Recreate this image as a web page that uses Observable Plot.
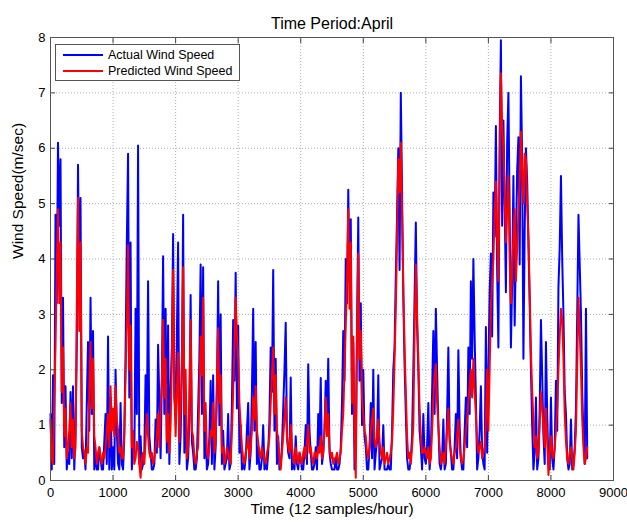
<!DOCTYPE html>
<html>
<head>
<meta charset="utf-8">
<script src="https://cdn.jsdelivr.net/npm/d3@7"></script>
<script src="https://cdn.jsdelivr.net/npm/@observablehq/plot@0.6"></script>
<style>
  html, body { margin: 0; padding: 0; background: #fff; }
  #wrap { position: relative; width: 627px; height: 524px; font-family: "Liberation Sans", Arial, sans-serif; }
  #legend { position: absolute; left: 55px; top: 44px; width: 185px; height: 37px; border: 1px solid #555; background: #fff; box-sizing: border-box; font-size: 12.5px; color: #000; }
  .item { position: absolute; left: 7px; height: 16px; display: flex; align-items: center; }
  .item span.sw { display: inline-block; width: 40px; height: 2px; margin-right: 5px; }
</style>
</head>
<body>
<div id="wrap"></div>
<script>
// Sample spacing of the recorded values (samples)
const sampleStep = 20;

// Actual wind speed (m/sec), one value every 20 samples
const actual = [
  1.2,0.2,1.9,0.3,4.8,3.2,6.1,4.6,5.8,1.4,3.3,0.6,1.7,0.2,0.5,0.3,1.6,0.4,1.7,0.2,0.9,2.4,5.7,3.4,5.1,0.6,0.4,0.5,0.2,1.4,2.5,0.9,3.3,1.2,2.7,0.2,0.5,0.2,0.2,0.6,0.4,0.2,0.2,0.7,1.2,0.3,2.6,0.2,1.5,0.2,
  0.6,0.2,2.0,0.9,0.3,0.2,1.4,0.3,0.2,0.8,2.3,4.3,5.9,1.5,4.3,0.2,0.6,0.4,3.1,1.2,6.05,0.3,0.8,0.2,0.3,0.5,1.9,1.0,3.6,0.8,0.5,0.2,0.2,0.3,1.1,0.5,2.45,1.4,0.4,1.8,4.05,1.2,3.1,0.5,2.8,0.3,1.6,2.4,4.45,1.5,
  1.2,2.6,4.3,0.3,0.8,2.0,4.8,0.5,1.6,0.2,0.4,1.1,3.35,0.7,0.5,0.2,0.2,0.4,1.3,2.2,3.9,1.2,3.85,0.4,1.0,0.2,0.3,0.8,1.8,0.3,1.9,0.2,0.6,1.6,3.6,1.0,3.0,0.3,0.9,0.2,0.3,0.4,1.2,0.2,0.3,1.4,2.9,1.8,3.75,1.3,
  2.8,0.5,1.0,0.2,0.3,0.2,0.4,0.9,1.4,0.2,0.5,1.6,3.1,0.9,2.5,0.3,0.6,0.2,0.2,0.4,1.0,0.2,0.3,0.2,0.5,1.1,2.4,1.6,3.8,0.9,2.2,0.3,0.8,0.2,0.3,0.6,1.3,2.0,2.85,0.8,0.5,0.4,1.86,0.2,0.3,0.2,0.8,0.3,0.2,0.5,
  0.4,0.2,0.2,0.5,1.0,0.3,2.1,0.9,0.5,0.2,0.2,0.3,0.6,0.2,1.2,0.6,1.85,0.3,0.5,0.9,1.8,1.0,2.2,0.5,0.3,0.2,0.2,0.2,0.4,0.2,0.2,0.3,0.6,1.4,2.7,1.8,4.0,3.2,5.25,3.6,4.72,1.2,2.5,0.2,0.6,2.8,4.75,1.8,3.2,1.0,
  2.0,0.8,0.6,0.2,0.2,0.6,1.4,0.4,2.0,0.2,0.5,0.7,1.9,0.2,0.3,0.4,1.0,0.2,0.2,0.2,0.3,0.2,0.2,0.9,2.0,2.4,3.7,4.8,6.0,3.8,7.0,5.2,3.3,2.1,1.2,0.4,0.2,0.2,0.4,0.8,2.0,3.3,4.66,2.8,2.0,0.9,0.6,0.2,1.2,0.4,
  0.3,0.6,1.4,0.2,0.5,1.6,2.7,1.2,3.1,2.0,1.0,0.3,0.2,0.4,1.1,0.2,0.3,1.2,2.4,0.8,0.5,0.2,0.2,0.6,1.2,0.4,2.35,1.0,0.4,0.2,0.2,0.9,1.5,0.6,2.4,1.2,3.6,2.2,4.0,2.6,1.5,0.2,0.4,0.9,1.7,0.5,0.3,0.2,2.77,0.5,
  2.0,3.4,4.1,2.6,5.2,4.4,6.4,3.8,2.4,6.2,7.95,4.6,6.5,5.0,3.4,6.1,7.0,4.8,2.4,3.6,5.5,2.8,4.2,5.6,6.2,3.9,7.3,5.8,2.2,4.5,6.0,5.4,4.3,3.2,2.0,1.0,0.2,0.5,1.5,0.2,0.4,1.3,2.9,1.9,0.8,0.3,2.5,1.2,0.3,0.2,
  1.5,0.4,0.2,0.6,1.8,0.9,3.5,4.2,5.5,4.0,3.0,1.6,1.2,0.4,0.2,0.3,1.1,0.2,0.3,0.6,1.3,3.0,4.8,3.9,3.0,1.6,0.8,0.3,3.1,0.4
];

// Predicted wind speed (m/sec), same sampling
const predicted = [
  1.1,0.4,0.3,1.5,2.4,3.8,4.9,3.2,4.3,1.6,2.4,0.8,1.3,0.4,0.6,0.9,1.4,0.6,1.1,0.4,0.6,3.1,5.1,2.7,4.3,0.9,0.6,0.5,0.3,0.6,0.5,1.6,2.5,1.3,2.2,0.8,0.6,0.3,0.5,0.6,0.4,0.3,0.5,0.4,0.6,0.9,1.2,0.6,1.7,0.9,
  1.3,0.8,1.7,1.1,0.9,0.5,0.6,0.4,0.4,0.9,1.9,2.8,4.25,2.0,2.8,0.6,0.9,0.3,0.4,0.7,0.6,0.3,0.05,0.4,0.5,0.3,0.7,1.2,0.8,0.5,0.4,0.5,0.3,0.4,0.6,0.8,1.2,0.6,1.3,1.8,2.9,1.5,2.2,0.7,1.2,0.5,1.0,2.2,3.8,1.6,
  0.8,1.6,2.3,0.7,1.3,2.1,3.85,1.2,2.0,0.4,0.6,1.5,2.9,0.9,0.8,0.4,0.3,0.5,0.6,1.6,2.6,1.9,3.3,0.9,1.4,0.5,0.4,0.6,0.9,0.8,1.4,0.5,0.7,1.8,2.75,1.4,1.9,0.5,0.6,0.3,0.4,0.6,0.5,0.4,0.3,0.9,1.6,2.4,3.3,2.6,
  2.2,1.4,1.0,0.6,0.4,0.3,0.5,0.6,0.8,0.4,0.6,0.9,1.5,1.1,1.7,0.9,0.7,0.5,0.4,0.6,0.5,0.4,0.3,0.5,0.6,0.8,1.4,1.9,2.4,1.2,1.9,0.9,0.7,0.4,0.2,0.5,0.8,1.1,1.5,0.8,0.6,0.5,1.0,0.6,0.4,0.3,0.6,0.4,0.3,0.5,
  0.4,0.3,0.5,0.6,0.4,0.7,1.0,0.5,0.6,0.4,0.3,0.5,0.5,0.4,0.6,0.5,0.8,0.4,0.5,0.9,1.5,0.8,1.2,0.6,0.4,0.5,0.3,0.4,0.4,0.5,0.3,0.4,0.5,0.9,1.2,2.0,2.8,3.6,4.9,3.1,4.3,1.4,2.6,0.8,0.05,2.6,4.1,2.2,2.7,1.5,
  1.2,0.9,0.8,0.5,0.4,0.6,0.9,1.1,1.3,0.7,0.6,0.8,1.1,0.7,0.5,0.4,0.6,0.3,0.4,0.5,0.3,0.4,0.5,0.7,1.3,2.2,3.1,4.4,5.8,5.2,6.1,4.8,3.5,2.4,1.6,0.8,0.4,0.5,0.3,0.6,1.0,2.7,3.9,3.0,2.2,1.3,0.8,0.5,0.5,0.6,
  0.5,0.4,0.6,0.3,0.4,0.9,1.5,1.9,2.1,1.4,1.0,0.6,0.3,0.4,0.5,0.3,0.6,0.9,1.3,0.7,0.5,0.4,0.3,0.5,0.6,0.8,1.1,0.6,0.4,0.3,0.4,0.6,0.9,1.1,1.4,1.7,2.0,1.5,2.2,1.6,1.2,0.7,0.5,0.6,0.7,0.4,0.5,0.6,1.1,2.0,
  0.9,2.0,3.1,3.6,4.0,4.8,5.4,4.4,3.6,5.6,7.35,6.4,6.0,5.2,4.3,4.9,5.5,4.0,3.2,3.8,4.4,4.9,3.6,4.2,4.8,5.4,6.3,5.6,5.0,5.9,5.8,5.0,4.4,3.4,2.3,1.6,1.1,0.6,0.8,0.4,0.5,1.0,1.6,1.3,1.0,0.6,1.3,0.7,0.1,0.5,
  0.8,0.5,0.4,0.6,0.9,1.3,2.0,2.6,3.1,2.9,2.2,1.2,0.7,0.4,0.3,0.5,0.6,0.4,0.2,0.5,0.9,2.1,3.3,2.7,2.0,1.1,0.6,0.3,0.4,0.6
];

const xTicks = [0, 1000, 2000, 3000, 4000, 5000, 6000, 7000, 8000, 9000];
const yTicks = [0, 1, 2, 3, 4, 5, 6, 7, 8];
const seriesNames = ["Actual Wind Speed", "Predicted Wind Speed"];
const seriesColors = ["#0000ff", "#ff0000"];
const titleText = "Time Period:April";
const xLabel = "Time (12 samples/hour)";
const yLabel = "Wind Speed(m/sec)";

const actualData = actual.map((v, i) => ({t: i * sampleStep, v}));
const predData = predicted.map((v, i) => ({t: i * sampleStep, v}));

const fmt = d => String(d);

const chart = Plot.plot({
  width: 627,
  height: 524,
  marginLeft: 50,
  marginRight: 14,
  marginTop: 37,
  marginBottom: 44,
  style: {fontFamily: '"Liberation Sans", Arial, sans-serif', fontSize: "13px", color: "#000", background: "#fff", overflow: "visible"},
  x: {domain: [0, 9000], ticks: xTicks},
  y: {domain: [0, 8], ticks: yTicks},
  marks: [
    Plot.gridX(xTicks.slice(1, -1), {stroke: "#999", strokeOpacity: 1, strokeDasharray: "1,2", strokeWidth: 0.8}),
    Plot.gridY(yTicks.slice(1, -1), {stroke: "#999", strokeOpacity: 1, strokeDasharray: "1,2", strokeWidth: 0.8}),
    Plot.lineY(actualData, {x: "t", y: "v", stroke: seriesColors[0], strokeWidth: 2}),
    Plot.lineY(predData, {x: "t", y: "v", stroke: seriesColors[1], strokeWidth: 2}),
    Plot.axisX(xTicks, {anchor: "bottom", tickSize: -5, tickPadding: 12, tickFormat: fmt, label: null, stroke: "#444", fontSize: 13}),
    Plot.axisX(xTicks, {anchor: "top", tickSize: -5, tickFormat: () => "", label: null, stroke: "#444"}),
    Plot.axisY(yTicks, {anchor: "left", tickSize: -5, tickPadding: 10, tickFormat: fmt, label: null, stroke: "#444", fontSize: 13}),
    Plot.axisY(yTicks, {anchor: "right", tickSize: -5, tickFormat: () => "", label: null, stroke: "#444"}),
    Plot.frame({stroke: "#555", strokeWidth: 1}),
    Plot.text([titleText], {frameAnchor: "top", dy: -20, fontSize: 16, text: d => d}),
    Plot.text([xLabel], {frameAnchor: "bottom", dy: 33, fontSize: 15.5, text: d => d}),
    Plot.text([yLabel], {frameAnchor: "left", dx: -32, rotate: -90, fontSize: 15.5, text: d => d})
  ]
});

const wrap = document.getElementById("wrap");
wrap.appendChild(chart);
const legend = document.createElement("div");
legend.id = "legend";
seriesNames.forEach((name, i) => {
  const it = document.createElement("div");
  it.className = "item";
  it.style.top = (2 + i * 16) + "px";
  const sw = document.createElement("span");
  sw.className = "sw";
  sw.style.background = seriesColors[i];
  it.appendChild(sw);
  const tx = document.createElement("span");
  tx.textContent = name;
  it.appendChild(tx);
  legend.appendChild(it);
});
wrap.appendChild(legend);
</script>
</body>
</html>
